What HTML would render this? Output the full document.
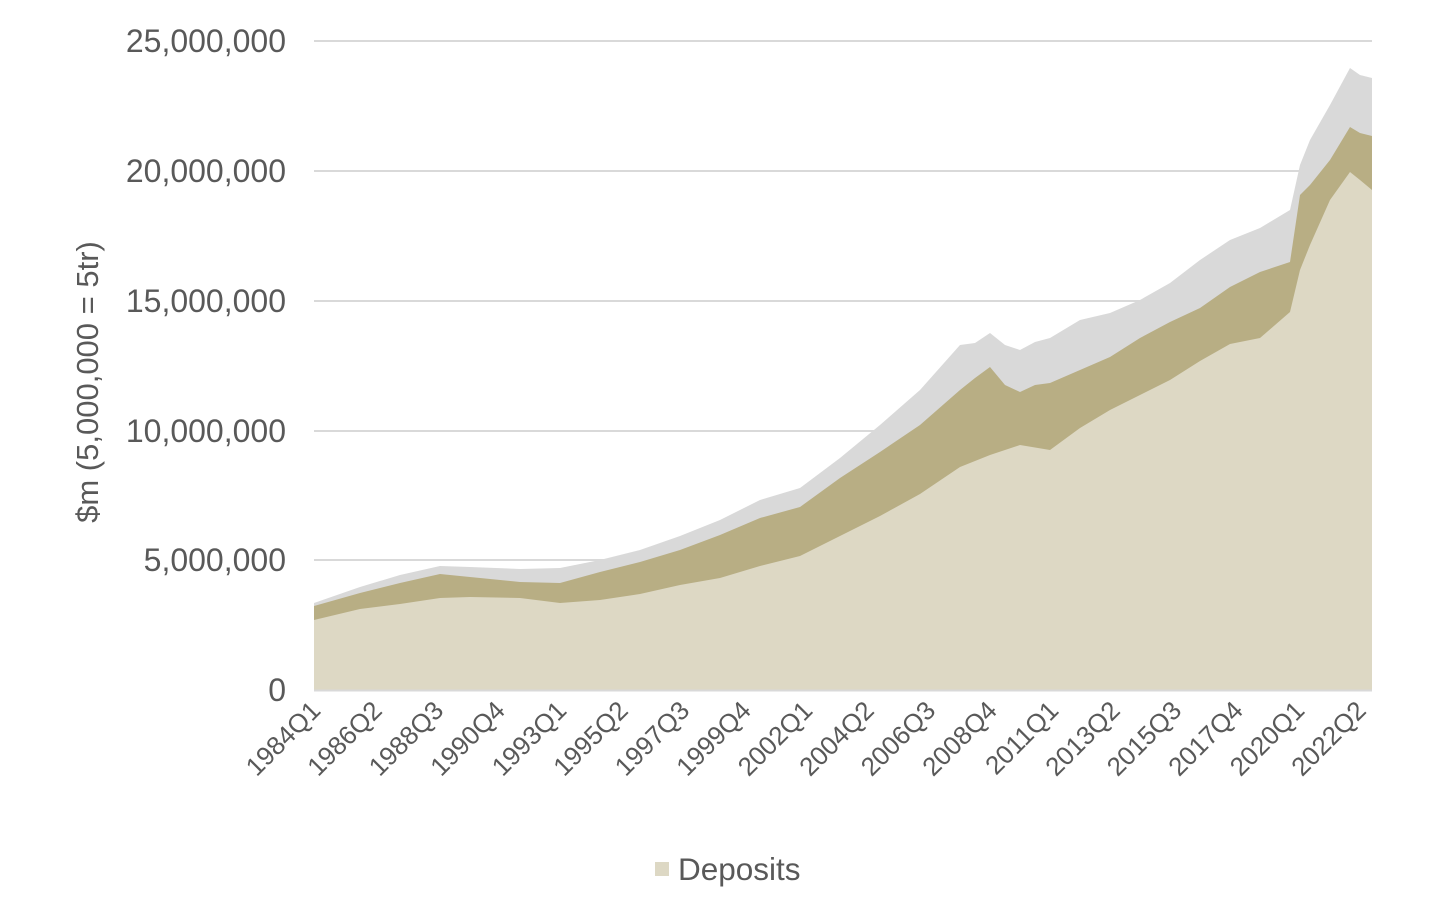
<!DOCTYPE html>
<html><head><meta charset="utf-8"><style>
body{margin:0;background:#fff}
svg{display:block;font-family:"Liberation Sans",sans-serif}
</style></head><body>
<svg width="1437" height="909" viewBox="0 0 1437 909">
<g stroke="#d9d9d9" stroke-width="2">
<line x1="314" x2="1372" y1="41" y2="41"/><line x1="314" x2="1372" y1="171" y2="171"/>
<line x1="314" x2="1372" y1="301" y2="301"/><line x1="314" x2="1372" y1="431" y2="431"/>
<line x1="314" x2="1372" y1="560" y2="560"/>
</g>
<polygon fill="#d9d9d9" points="314,690 314,603 360,587 400,575 440,566 470,567 520,569 560,568 600,560 640,550 680,536 720,520 760,500 800,488 840,458 880,425 920,390 960,345 975,343 990,333 1005,345 1020,350 1035,342 1050,338 1080,320 1110,313 1140,300 1170,283 1200,260 1230,240 1260,228 1290,210 1300,165 1310,140 1330,105 1350,68 1360,75 1372,78 1372,690"/>
<polygon fill="#b8ae84" points="314,690 314,606 360,593 400,583 440,574 470,577 520,582 560,583 600,572 640,562 680,550 720,535 760,518 800,507 840,478 880,452 920,425 960,390 975,378 990,367 1005,385 1020,392 1035,385 1050,383 1080,370 1110,357 1140,338 1170,322 1200,308 1230,287 1260,272 1290,262 1300,195 1310,185 1330,160 1350,127 1360,133 1372,136 1372,690"/>
<polygon fill="#ddd8c4" points="314,690 314,620 360,609 400,604 440,598 470,597 520,598 560,603 600,600 640,594 680,585 720,578 760,566 800,556 840,536 880,516 920,494 960,467 990,455 1020,445 1050,450 1080,428 1110,410 1140,395 1170,380 1200,361 1230,344 1260,338 1290,312 1300,270 1310,245 1330,200 1350,172 1360,180 1372,190 1372,690"/>
<line x1="314" x2="1372" y1="690.5" y2="690.5" stroke="#d9d9d9" stroke-width="2"/>
<g font-size="32" fill="#595959" text-anchor="end">
<text x="286" y="52">25,000,000</text><text x="286" y="182">20,000,000</text>
<text x="286" y="312">15,000,000</text><text x="286" y="442">10,000,000</text>
<text x="286" y="571">5,000,000</text><text x="286" y="701">0</text>
</g>
<text transform="translate(98,382) rotate(-90)" font-size="31" fill="#595959" text-anchor="middle">$m (5,000,000 = 5tr)</text>
<g font-size="26" fill="#595959" text-anchor="end">
<text transform="translate(322,712) rotate(-45)">1984Q1</text>
<text transform="translate(383.5,712) rotate(-45)">1986Q2</text>
<text transform="translate(445,712) rotate(-45)">1988Q3</text>
<text transform="translate(506.5,712) rotate(-45)">1990Q4</text>
<text transform="translate(568,712) rotate(-45)">1993Q1</text>
<text transform="translate(629.5,712) rotate(-45)">1995Q2</text>
<text transform="translate(691,712) rotate(-45)">1997Q3</text>
<text transform="translate(752.5,712) rotate(-45)">1999Q4</text>
<text transform="translate(814,712) rotate(-45)">2002Q1</text>
<text transform="translate(875.5,712) rotate(-45)">2004Q2</text>
<text transform="translate(937,712) rotate(-45)">2006Q3</text>
<text transform="translate(998.5,712) rotate(-45)">2008Q4</text>
<text transform="translate(1060,712) rotate(-45)">2011Q1</text>
<text transform="translate(1121.5,712) rotate(-45)">2013Q2</text>
<text transform="translate(1183,712) rotate(-45)">2015Q3</text>
<text transform="translate(1244.5,712) rotate(-45)">2017Q4</text>
<text transform="translate(1306,712) rotate(-45)">2020Q1</text>
<text transform="translate(1367.5,712) rotate(-45)">2022Q2</text>
</g>
<rect x="655" y="862" width="14" height="14" fill="#ddd8c4"/>
<text x="678" y="880" font-size="31.5" fill="#595959">Deposits</text>
</svg>
</body></html>
